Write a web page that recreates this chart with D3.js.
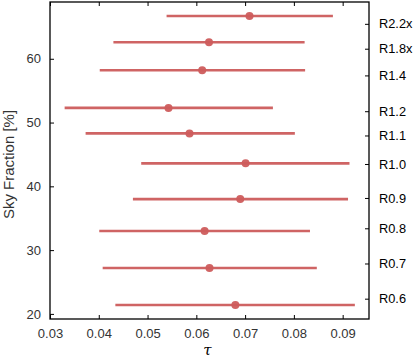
<!DOCTYPE html>
<html><head><meta charset="utf-8">
<script src="https://cdn.jsdelivr.net/npm/d3@7"></script>
<style>body{margin:0;background:#fff}svg{display:block}</style>
</head><body>
<svg id="c" width="415" height="363"></svg>
<script>
const labels = ["R2.2x","R1.8x","R1.4","R1.2","R1.1","R1.0","R0.9","R0.8","R0.7","R0.6"];
const skyFraction = [66.7, 62.6, 58.2, 52.3, 48.3, 43.6, 38.0, 33.0, 27.2, 21.4];
const tauMid = [0.0709, 0.0626, 0.0612, 0.0543, 0.0586, 0.0701, 0.0690, 0.0617, 0.0627, 0.0680];
const tauLow = [0.0539, 0.0430, 0.0402, 0.0330, 0.0373, 0.0487, 0.0470, 0.0401, 0.0408, 0.0434];
const tauHigh = [0.0880, 0.0822, 0.0823, 0.0757, 0.0802, 0.0914, 0.0911, 0.0833, 0.0847, 0.0925];
const xTicks = [0.03, 0.04, 0.05, 0.06, 0.07, 0.08, 0.09];
const yTicks = [20, 30, 40, 50, 60];

const L = 50, R = 369, T = 2, B = 319;
const col = "#cd5c5c";
const font = "'Liberation Sans', Arial, sans-serif";
const svg = d3.select("#c");
const x = d3.scaleLinear().domain([0.03, 0.0954]).range([L, R]);
const y = d3.scaleLinear().domain([19.2, 68.9]).range([B, T]);
const yR = d3.scaleLinear().domain([18.05, 70.3]).range([B, T]);

const g = svg.append("g");
// error bars
g.selectAll("line.err").data(labels).join("line")
  .attr("x1", (d,i) => x(tauLow[i])).attr("x2", (d,i) => x(tauHigh[i]))
  .attr("y1", (d,i) => y(skyFraction[i])).attr("y2", (d,i) => y(skyFraction[i]))
  .attr("stroke", col).attr("stroke-width", 2.6).attr("opacity", 0.95);
g.selectAll("circle").data(labels).join("circle")
  .attr("cx", (d,i) => x(tauMid[i])).attr("cy", (d,i) => y(skyFraction[i]))
  .attr("r", 4).attr("fill", col).attr("opacity", 0.95);

function style(sel){
  sel.select(".domain").remove();
  sel.selectAll(".tick line").attr("stroke", "#000").attr("stroke-width", 1);
  sel.selectAll(".tick text").attr("fill", "#333").style("font-family", font).style("font-size", "13px");
}
svg.append("g").attr("transform", `translate(0,${B})`)
  .call(d3.axisBottom(x).tickValues(xTicks).tickFormat(d3.format(".2f")).tickSizeInner(-4).tickPadding(10))
  .call(style);
svg.append("g").attr("transform", `translate(0,${T})`)
  .call(d3.axisTop(x).tickValues(xTicks).tickFormat("").tickSizeInner(-4))
  .call(style);
svg.append("g").attr("transform", `translate(${L},0)`)
  .call(d3.axisLeft(y).tickValues(yTicks).tickSizeInner(-4).tickPadding(9))
  .call(style);
const ra = svg.append("g").attr("transform", `translate(${R},0)`)
  .call(d3.axisRight(yR).tickValues(skyFraction).tickFormat((d,i) => labels[i]).tickSizeInner(-4).tickPadding(10))
  .call(style);
ra.selectAll(".tick text").attr("fill", "#000").style("font-size", "12.8px");

svg.append("rect").attr("x", L).attr("y", T).attr("width", R - L).attr("height", B - T)
  .attr("fill", "none").attr("stroke", "#000").attr("stroke-width", 1.3);

svg.append("text").attr("transform", `translate(14,${(T+B)/2 + 4}) rotate(-90)`)
  .attr("text-anchor", "middle").style("font-family", font).style("font-size", "15px").attr("fill", "#333")
  .text("Sky Fraction [%]");
svg.append("text").attr("x", (L+R)/2 - 2).attr("y", 355).attr("text-anchor", "middle")
  .style("font-family", "'DejaVu Serif', serif").style("font-style", "italic").style("font-size", "15px")
  .text("τ");
</script>
</body></html>
